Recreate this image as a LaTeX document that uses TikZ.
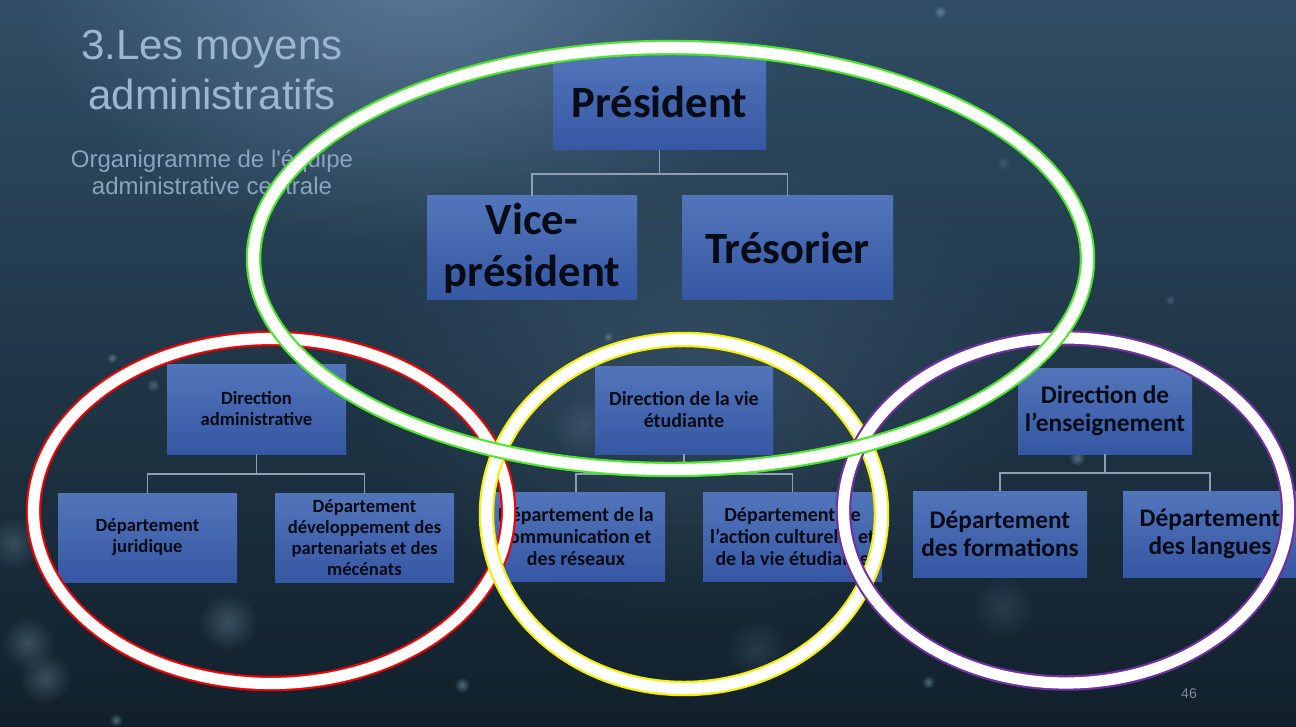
\documentclass[tikz,border=0pt]{standalone}
\usepackage{fontspec}
\setmainfont{Liberation Sans}[Ligatures=TeXOff]
\newfontfamily\carl{Carlito}
\usetikzlibrary{fadings}
\tikzfading[name=softglow, inner color=transparent!0, outer color=transparent!100]
\definecolor{bgtop}{HTML}{2F4D64}
\definecolor{bgmid}{HTML}{1C3345}
\definecolor{bgbot}{HTML}{11202B}
\definecolor{glow}{HTML}{7E9CC2}
\definecolor{boxtop}{HTML}{5275BA}
\definecolor{boxbot}{HTML}{3657A3}
\definecolor{txt}{HTML}{070B16}
\definecolor{conn}{HTML}{8D9FB4}
\definecolor{ttlc}{HTML}{9DB6D0}
\definecolor{subc}{HTML}{8CA5BE}
\definecolor{rgreen}{HTML}{4CE62A}
\definecolor{rred}{HTML}{F00000}
\definecolor{ryellow}{HTML}{F5F000}
\definecolor{rpurple}{HTML}{7030A0}
\definecolor{bokehc}{HTML}{8FB0C4}
\definecolor{pgc}{HTML}{7F8C99}
\begin{document}
\begin{tikzpicture}[x=0.75pt,y=-0.75pt,
  orgbox/.style 2 args={minimum width=#1*0.75pt, minimum height=#2*0.75pt,
    inner sep=0pt, top color=boxtop, bottom color=boxbot, text=txt, align=center},
  fbig/.style={font=\carl\bfseries\fontsize{33.5}{39}\selectfont},
  fsmall/.style={font=\carl\bfseries\fontsize{14}{15.75}\selectfont},
  fmid/.style={font=\carl\bfseries\fontsize{15}{16.5}\selectfont},
  fright/.style={font=\carl\bfseries\fontsize{19}{21}\selectfont},
  link/.style={draw=conn, line width=0.9pt},
  ringc/.style={draw=#1, line width=11.6pt},
  ringw/.style={draw=white, line width=8.4pt},
  blob/.style={fill=bokehc, opacity=#1, path fading=softglow},
  ttlfont/.style={font=\fontsize{31.5}{37}\selectfont, text=ttlc, anchor=base},
  subfont/.style={font=\fontsize{18}{21}\selectfont, text=subc, anchor=base}
]
% background
\path[use as bounding box] (0,0) rectangle (1296,727);
\shade[top color=bgtop, middle color=bgmid, bottom color=bgbot] (0,0) rectangle (1296,727);
\fill[glow, opacity=0.55, path fading=softglow] (420,-30) ellipse [x radius=300pt, y radius=210pt];
\fill[glow, opacity=0.2, path fading=softglow] (700,380) ellipse [x radius=260pt, y radius=180pt];
% bokeh
\fill[blob=0.3] (28,643) circle (20pt);
\fill[blob=0.3] (45,678) circle (20pt);
\fill[blob=0.25] (13,543) circle (20pt);
\fill[blob=0.3] (228,622) circle (22pt);
\fill[blob=0.15] (583,427) circle (24pt);
\fill[blob=0.15] (757,650) circle (24pt);
\fill[blob=0.15] (1003,607) circle (24pt);
\fill[blob=0.5] (116,720) circle (5pt);
\fill[blob=0.5] (112,358) circle (4pt);
\fill[blob=0.4] (153,385) circle (5pt);
\fill[blob=0.5] (462,685) circle (6pt);
\fill[blob=0.4] (608,337) circle (4pt);
\fill[blob=0.5] (1077,458) circle (6pt);
\fill[blob=0.5] (928,682) circle (5pt);
\fill[blob=0.5] (940,12) circle (5pt);
\fill[blob=0.3] (1170,300) circle (4pt);
\fill[blob=0.25] (1003,163) circle (5pt);
% titles
\node[ttlfont] (t1) at (212,60) {3.Les moyens};
\node[ttlfont] (t2) at (212,110) {administratifs};
\node[subfont] (s1) at (212,168) {Organigramme de l'équipe};
\node[subfont] (s2) at (212,195) {administrative centrale};
% top group
\node[orgbox={213}{97}, fbig] (pres) at (659.5,101.5) {Président};
\node[orgbox={210}{104}, fbig] (vp) at (532,248) {Vice-\\président};
\node[orgbox={211}{104}, fbig] (tres) at (787.5,248) {Trésorier};
\coordinate (j0) at (659.5,174);
\draw[link] (pres.south) -- (j0);
\draw[link] (j0) -| (vp.north);
\draw[link] (j0) -| (tres.north);
% left group
\node[orgbox={179}{90}, fsmall] (dadm) at (256.5,409) {Direction\\administrative};
\node[orgbox={179}{89}, fsmall] (jur) at (147.5,537.5) {Département\\juridique};
\node[orgbox={179}{89}, fsmall] (dev) at (364.5,537.5) {Département\\développement des\\partenariats et des\\mécénats};
\coordinate (j1) at (256.5,474);
\draw[link] (dadm.south) -- (j1);
\draw[link] (j1) -| (jur.north);
\draw[link] (j1) -| (dev.north);
% middle group
\node[orgbox={178}{88}, fmid] (dvie) at (684,410) {Direction de la vie\\étudiante};
\node[orgbox={178}{89}, fmid] (comm) at (576,536.5) {Département de la\\communication et\\des réseaux};
\node[orgbox={179}{89}, fmid] (act) at (792.5,536.5) {Département de\\l’action culturelle et\\de la vie étudiante};
\coordinate (j2) at (684,474);
\draw[link] (dvie.south) -- (j2);
\draw[link] (j2) -| (comm.north);
\draw[link] (j2) -| (act.north);
% right group
\node[orgbox={174}{86}, fright] (dens) at (1105,411) {Direction de\\l’enseignement};
\node[orgbox={174}{86}, fright] (form) at (1000,534) {Département\\des formations};
\node[orgbox={174}{86}, fright] (lang) at (1210,534) {Département\\des langues};
\coordinate (j3) at (1105,473);
\draw[link] (dens.south) -- (j3);
\draw[link] (j3) -| (form.north);
\draw[link] (j3) -| (lang.north);
% rings
\draw[ringc=rred] (271,511) ellipse [x radius=178.125pt, y radius=129.375pt];
\draw[ringw] (271,511) ellipse [x radius=178.125pt, y radius=129.375pt];
\draw[ringc=ryellow] (684,514) ellipse [x radius=148.125pt, y radius=130.875pt];
\draw[ringw] (684,514) ellipse [x radius=148.125pt, y radius=130.875pt];
\draw[ringc=rpurple] (1066,510.5) ellipse [x radius=166.875pt, y radius=129.375pt];
\draw[ringw] (1066,510.5) ellipse [x radius=166.875pt, y radius=129.375pt];
\draw[ringc=rgreen] (670.5,258.5) ellipse [x radius=312.75pt, y radius=158.25pt];
\draw[ringw] (670.5,258.5) ellipse [x radius=312.75pt, y radius=158.25pt];
% page number
\node[font=\fontsize{10.5}{12}\selectfont, text=pgc] (pg) at (1189,694) {46};
\end{tikzpicture}
\end{document}
